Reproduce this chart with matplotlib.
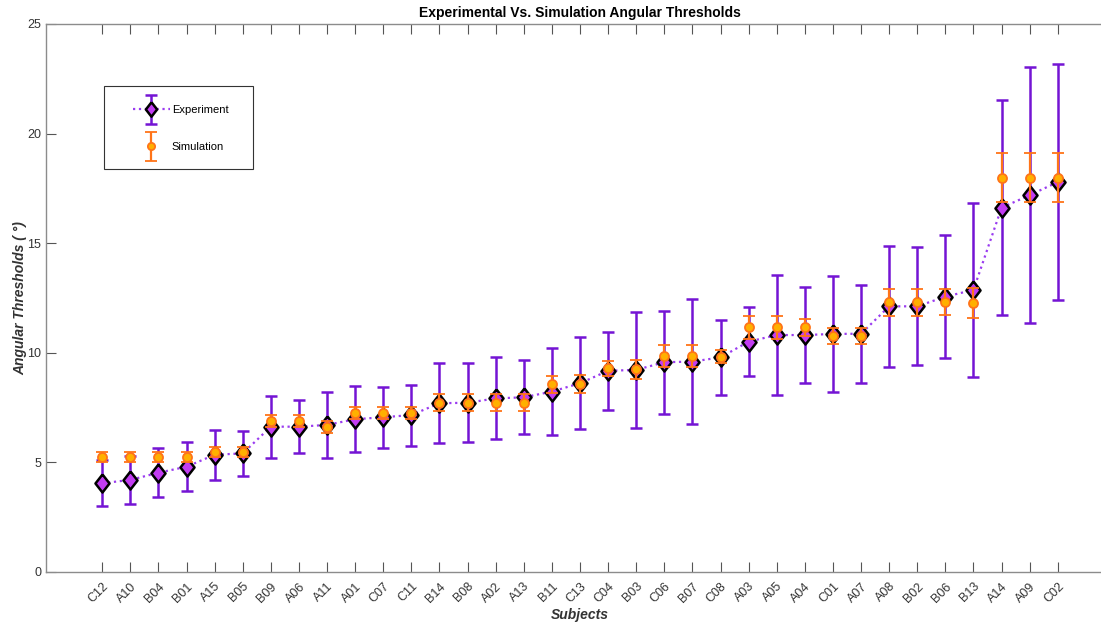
import numpy as np
import matplotlib
matplotlib.use("Agg")
from matplotlib import pyplot as plt
from matplotlib.container import ErrorbarContainer
from matplotlib.legend_handler import HandlerErrorbar
from matplotlib.patches import Rectangle

plt.rcParams['font.family'] = ['Liberation Sans', 'DejaVu Sans']

# subjects sorted by experimental threshold
subjects = ["C12", "A10", "B04", "B01", "A15", "B05", "B09", "A06", "A11", "A01",
            "C07", "C11", "B14", "B08", "A02", "A13", "B11", "C13", "C04", "B03",
            "C06", "B07", "C08", "A03", "A05", "A04", "C01", "A07", "A08", "B02",
            "B06", "B13", "A14", "A09", "C02"]

exp_mean = [4.05, 4.20, 4.53, 4.80, 5.35, 5.41, 6.63, 6.63, 6.71, 6.97,
            7.06, 7.16, 7.70, 7.72, 7.92, 7.97, 8.23, 8.61, 9.18, 9.22,
            9.57, 9.60, 9.79, 10.51, 10.81, 10.81, 10.86, 10.87, 12.12, 12.12,
            12.56, 12.87, 16.62, 17.19, 17.79]
exp_err = [1.04, 1.10, 1.11, 1.12, 1.14, 1.04, 1.42, 1.20, 1.52, 1.50,
           1.40, 1.39, 1.82, 1.81, 1.87, 1.69, 1.99, 2.09, 1.77, 2.65,
           2.34, 2.86, 1.72, 1.56, 2.72, 2.19, 2.63, 2.24, 2.75, 2.69,
           2.82, 3.96, 4.90, 5.85, 5.37]

sim_mean = [5.25, 5.25, 5.25, 5.25, 5.47, 5.47, 6.89, 6.89, 6.63, 7.24,
            7.24, 7.27, 7.72, 7.72, 7.72, 7.72, 8.56, 8.56, 9.29, 9.25,
            9.85, 9.85, 9.82, 11.16, 11.16, 11.16, 10.77, 10.77, 12.30, 12.30,
            12.33, 12.28, 17.99, 17.99, 17.99]
sim_err = [0.22, 0.22, 0.22, 0.22, 0.23, 0.23, 0.27, 0.27, 0.27, 0.27,
           0.27, 0.27, 0.38, 0.38, 0.38, 0.38, 0.38, 0.41, 0.35, 0.43,
           0.49, 0.49, 0.30, 0.52, 0.52, 0.40, 0.37, 0.37, 0.60, 0.60,
           0.60, 0.69, 1.11, 1.11, 1.11]

purple = "#7414d4"
magenta = "#c23cf2"
orange = "#ff7418"
gold = "#ffb000"

# MATLAB-ish diamond, a bit taller than wide
diamond = [(0, 1), (0.78, 0), (0, -1), (-0.78, 0), (0, 1)]

x = np.arange(1, len(subjects) + 1)

fig = plt.figure(figsize=(11.01, 6.22), dpi=100)
ax = fig.add_axes([46/1101, 1 - 572/622, (1114 - 46)/1101, (572 - 24)/622])

eb1 = ax.errorbar(x, exp_mean, yerr=exp_err, color="#9a3cf0", ls=":", lw=1.6,
                  marker=diamond, ms=13, mfc=magenta, mec="black", mew=1.8,
                  ecolor=purple, elinewidth=1.8, capsize=4, capthick=1.8,
                  label="Experiment", zorder=2)
eb2 = ax.errorbar(x, sim_mean, yerr=sim_err, ls="none",
                  marker="o", ms=6.5, mfc=gold, mec=orange, mew=1.3,
                  ecolor=orange, elinewidth=1.6, capsize=4.5, capthick=1.6,
                  label="Simulation", zorder=3)

ax.set_xlim(-1, 37)
ax.set_ylim(0, 25)
ax.set_xticks(x)
ax.set_xticklabels(subjects, rotation=45, ha="right", rotation_mode="anchor",
                   fontsize=9, color="#333333")
ax.set_yticks([0, 5, 10, 15, 20, 25])
ax.tick_params(axis="y", labelsize=9, labelcolor="#333333")
ax.tick_params(direction="in", length=7, width=0.8, color="#555555", top=True)
ax.tick_params(axis="x", pad=6)

ax.spines["right"].set_visible(False)
for s in ["left", "bottom", "top"]:
    ax.spines[s].set_color("#8c8c8c")
    ax.spines[s].set_linewidth(1.0)

ax.set_title("Experimental Vs. Simulation Angular Thresholds", fontsize=10,
             fontweight="bold", pad=5)
ax.set_xlabel("Subjects", fontsize=10, fontweight="bold", style="italic",
              color="#333333", labelpad=2)
ax.set_ylabel("Angular Thresholds ( °)", fontsize=10, fontweight="bold",
              style="italic", color="#333333", labelpad=0)

# legend box drawn by hand, entries placed inside it
ax.add_patch(Rectangle((104/1101, 1 - 169/622), 149/1101, 83/622,
                       transform=fig.transFigure, fill=True, fc="white",
                       ec="#333333", lw=0.8, zorder=5, clip_on=False))
leg = ax.legend(loc="upper left", bbox_to_anchor=(133/1101, 1 - 105/622),
                bbox_transform=fig.transFigure, fontsize=8, frameon=False,
                handlelength=3.3, labelspacing=2.45, borderpad=0,
                handletextpad=0.2, borderaxespad=0, markerscale=0.8,
                handler_map={ErrorbarContainer: HandlerErrorbar(yerr_size=1.3)})
leg.set_zorder(6)

fig.savefig("out.png", dpi=100)
